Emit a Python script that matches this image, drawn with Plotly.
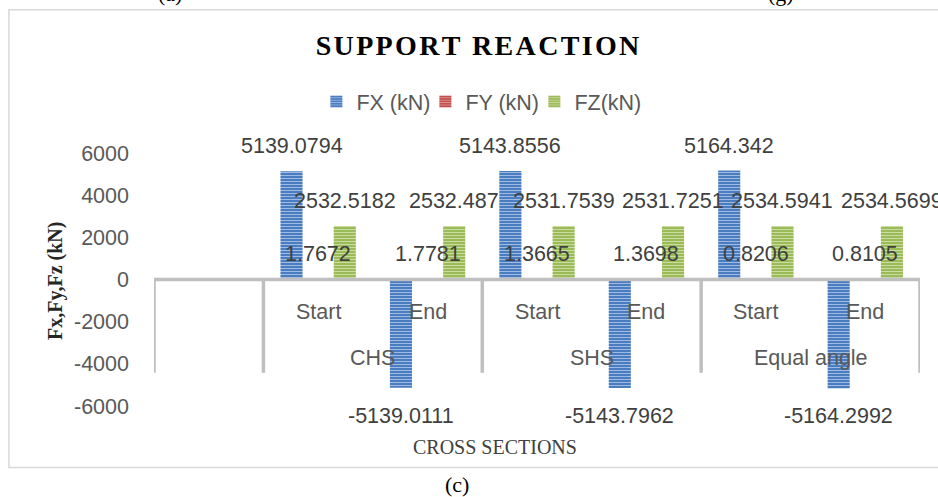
import plotly.graph_objects as go

# ---------------- data ----------------
sections = ["CHS", "SHS", "Equal angle"]
ends = ["Start", "End"]
categories = [f"{s} {e}" for s in sections for e in ends]
fx = [5139.0794, -5139.0111, 5143.8556, -5143.7962, 5164.342, -5164.2992]
fy = [1.7672, 1.7781, 1.3665, 1.3698, 0.8206, 0.8105]
fz = [2532.5182, 2532.487, 2531.7539, 2531.7251, 2534.5941, 2534.5699]
series_names = ["FX (kN)", "FY (kN)", "FZ(kN)"]
y_ticks = [-6000, -4000, -2000, 0, 2000, 4000, 6000]

# ---------------- layout geometry ----------------
W, H = 938, 497
L, R, T, B = 153.6, 18.3, 152.7, 90.7
PW, PH = W - L - R, H - T - B
XR = [-1.5, 5.5]
BARGAP, GROUPGAP = 0.27, 0.17
cat_px = PW / (XR[1] - XR[0])
slot_px = (1 - BARGAP) * cat_px / 3


def px(x):
    return (x - L) / PW


def py(y):
    return (H - B - y) / PH


styles = [
    dict(bg="#4A7DC0", fg="#A9C2E6"),
    dict(bg="#C0504D", fg="#E3A3A1"),
    dict(bg="#9BBB59", fg="#CFE0A8"),
]
label_font = dict(family="Liberation Sans, Arial, sans-serif", size=21.5, color="#404040")
axis_font = dict(family="Liberation Sans, Arial, sans-serif", size=21.5, color="#595959")

fig = go.Figure()
for name, vals, st in zip(series_names, [fx, fy, fz], styles):
    fig.add_trace(go.Bar(
        x=categories, y=vals, name=name,
        marker=dict(color=st["bg"], line=dict(width=0),
                    pattern=dict(shape="-", bgcolor=st["bg"], fgcolor=st["fg"],
                                 fgopacity=1, size=3, solidity=0.3)),
        hoverinfo="x+y+name",
    ))

annotations = []
# data labels
for k, vals in enumerate([fx, fy, fz]):
    for i, v in enumerate(vals):
        annotations.append(dict(
            x=i, y=v, xref="x", yref="y", text=str(v), showarrow=False,
            xanchor="center", yanchor="middle",
            xshift=(k - 1) * slot_px, yshift=25 if v >= 0 else -28,
            font=label_font,
        ))
# inner category labels
for i, c in enumerate(categories):
    annotations.append(dict(x=i, y=0, xref="x", yref="y", text=ends[i % 2],
                            xanchor="center", yanchor="middle",
                            showarrow=False, yshift=-32.5, font=axis_font))
# group labels
for j, s in enumerate(sections):
    annotations.append(dict(x=2 * j + 0.5, y=0, xref="x", yref="y", text=s,
                            xanchor="center", yanchor="middle",
                            showarrow=False, yshift=-78.5, font=axis_font))
# axis titles
annotations.append(dict(x=px(55), y=py(280.5), xref="paper", yref="paper",
                        xanchor="center", yanchor="middle",
                        text="<b>Fx,Fy,Fz (kN)</b>", textangle=-90, showarrow=False,
                        font=dict(family="Liberation Serif, Times New Roman, serif", size=20, color="#262626")))
annotations.append(dict(x=px(495), y=py(447), xref="paper", yref="paper",
                        xanchor="center", yanchor="middle",
                        text="CROSS SECTIONS", showarrow=False,
                        font=dict(family="Liberation Serif, Times New Roman, serif", size=20, color="#404040")))
# figure captions
serif = dict(family="Liberation Serif, Times New Roman, serif", size=22, color="#000000")
for txt, cx, cy in [("(c)", 457, 485), ("(a)", 170, -7), ("(g)", 781, -7)]:
    annotations.append(dict(x=px(cx), y=py(cy), xref="paper", yref="paper", text=txt,
                            xanchor="center", yanchor="middle", showarrow=False, font=serif))

shapes = []
# chart border
shapes.append(dict(type="rect", xref="paper", yref="paper",
                   x0=px(8.5), x1=px(960), y0=py(9), y1=py(468),
                   line=dict(color="#D9D9D9", width=1.5), layer="below"))
# group separators
for xb in [-1.5, -0.5, 1.5, 3.5, 5.5]:
    shapes.append(dict(type="line", xref="x", yref="paper", x0=xb, x1=xb,
                       y0=py(279.5), y1=py(373), line=dict(color="#BFBFBF", width=3.5),
                       layer="above"))
# horizontal category axis at zero
shapes.append(dict(type="line", xref="x", yref="y", x0=XR[0], x1=XR[1], y0=0, y1=0,
                   line=dict(color="#BFBFBF", width=3.5), layer="above"))

hs = "\u200a"
title_text = hs.join("SUPPORT") + hs + " " + hs + hs.join("REACTION")

fig.update_layout(
    width=W, height=H, autosize=False,
    margin=dict(l=L, r=R, t=T, b=B, pad=0),
    paper_bgcolor="white", plot_bgcolor="white",
    barmode="group", bargap=BARGAP, bargroupgap=GROUPGAP,
    title=dict(text="<b>" + title_text + "</b>", x=477.5 / W, xanchor="center",
               y=1 - 45 / H, yanchor="middle", xref="container", yref="container",
               font=dict(family="Liberation Serif, Times New Roman, serif", size=28, color="#000000")),
    showlegend=True,
    legend=dict(orientation="h", x=px(316), xanchor="left", y=py(101), yanchor="middle",
                font=axis_font, bgcolor="rgba(0,0,0,0)", itemclick=False,
                entrywidth=64, itemwidth=30),
    xaxis=dict(type="category", range=XR, showticklabels=False, showgrid=False,
               zeroline=False, showline=False, ticks=""),
    yaxis=dict(range=[-6000, 6000], tickvals=y_ticks, ticktext=[str(t) for t in y_ticks],
               showgrid=False, zeroline=False, showline=False, ticks="",
               ticklabelstandoff=24, tickfont=axis_font),
    annotations=annotations, shapes=shapes,
)

fig.write_html("out.html", config={"displayModeBar": False},
               post_script="document.body.style.margin='0';document.body.style.overflow='hidden';")
